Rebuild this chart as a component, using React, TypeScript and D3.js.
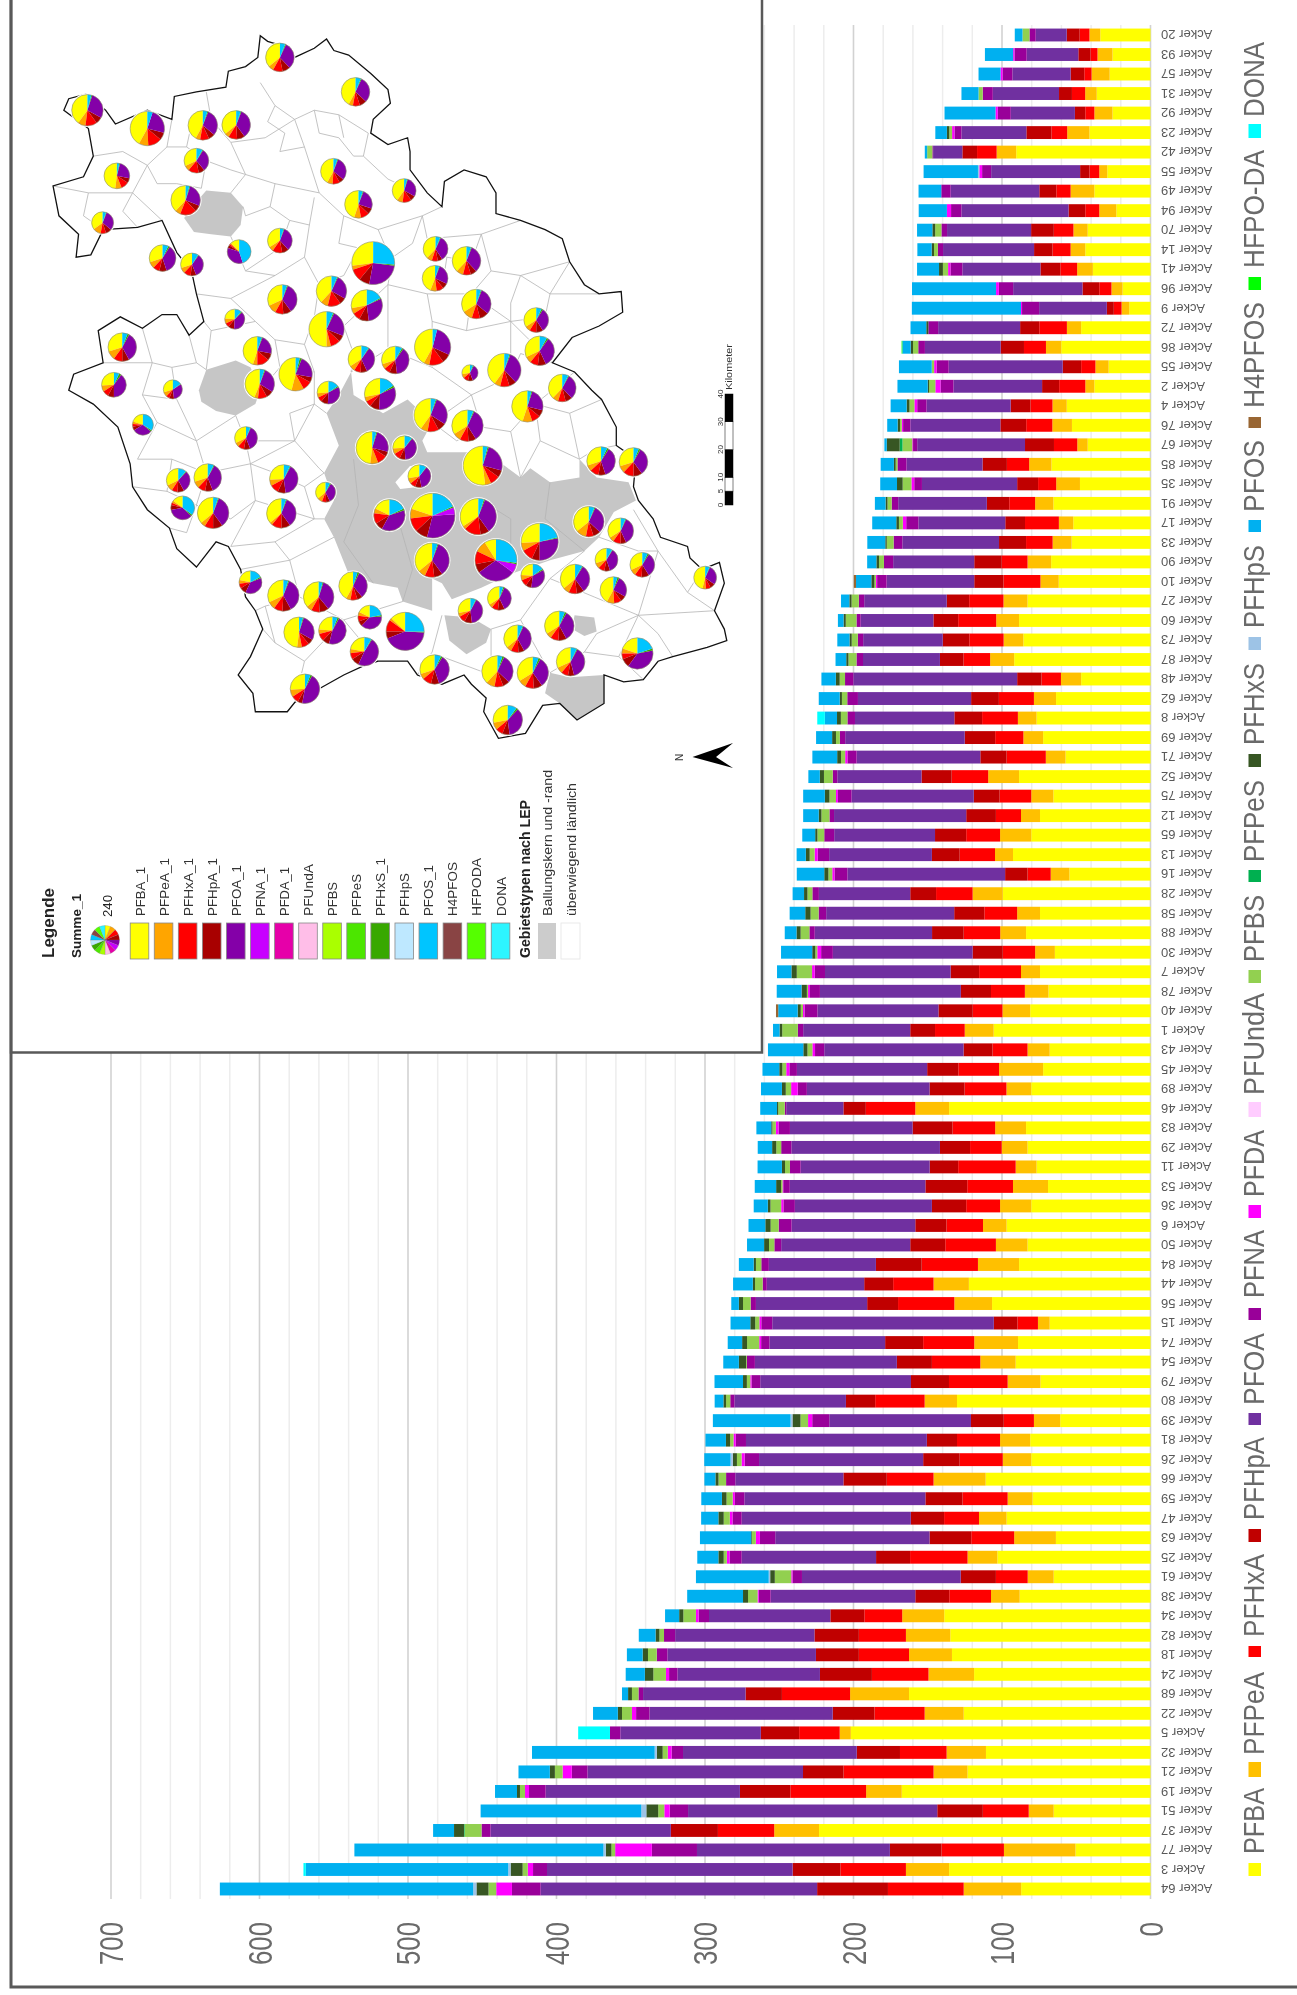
import React from "react";
import * as d3 from "d3";

const W = 1297, H = 1995;

const acker = [20,93,57,31,92,23,42,55,49,94,70,14,41,96,9,72,86,55,2,4,76,67,85,35,91,17,33,90,10,27,60,73,87,48,62,8,69,71,52,75,12,65,13,16,28,58,88,30,7,78,40,1,43,45,89,46,83,29,11,53,36,6,50,84,44,56,15,74,54,79,80,39,81,26,66,59,47,63,25,61,38,34,82,18,24,68,22,5,32,21,19,51,37,77,3,64];

const PFBA = [33.8,25.6,27.5,36.2,25.6,41.1,90.4,29.1,37.8,23,
42.3,43.9,38.8,18.8,14.3,46.7,60.1,28.2,37.8,56.4,
52.9,42.3,66.7,47.5,65.4,52,53.1,66.9,61.8,82.8,
88.5,85.6,91.8,46.7,63.6,76.7,72.3,57.2,88.5,65.4,
74.4,80.3,92.6,54.6,99.5,74.4,83.8,64.4,74.4,68.7,
81,105.6,67.9,72.3,80.3,135.6,83.8,82.8,76.7,69,
80.3,96.9,82.8,88.5,122.3,106.7,67.9,89.2,90.8,74.1,
130.3,60.8,81,80.3,111,79.4,96.9,63.7,103.1,65.2,
88.1,138.9,134.8,133.7,118.8,162.6,125.8,201.8,110.8,123.2,
167.5,65.2,223.2,50.5,135.6,87.1];
const PFPeA = [7.3,10.1,12.2,7.8,12.2,15,13.2,5.4,16,11.5,
9.6,9.9,10.6,7.5,5.2,9.6,10.3,8.9,6.1,9.6,
13.2,7,15,16,12.3,9.7,12.8,15.9,12.3,16.2,
15.4,13.3,16.2,13.6,14.9,12.6,13.3,13.3,20.8,14.9,
12.8,21,12.1,12.6,20.3,15.4,17.4,13.3,12.8,15.9,
18.7,19.5,14.9,29.7,16.7,22.8,20.8,17.4,14.1,23.6,
21,15.9,21.3,27.7,23.8,25.4,7.9,29.5,23.8,22.1,
21.8,17.7,20.3,19.2,35.1,16.8,18.6,28.1,20.1,17.5,
19.3,28.3,29.9,28.9,30.7,39.7,26.3,7.5,26.5,22.9,
24,16.8,30.2,48.2,29.1,38.7];
const PFHxA = [6.6,4.7,4.9,8.9,6.1,10.6,13.2,6.6,9.6,9.4,
13.2,12.2,11.3,8.2,5.2,18.6,14.8,9.6,17.6,14.8,
17.6,15.7,15,12.2,17.4,22.8,17.9,17.4,24.9,23.1,
25.6,23.1,17.9,13.1,23.6,24.1,19,26.4,24.6,21.3,
16.9,22.8,23.8,15.6,24.6,22.1,24.6,21.8,28.2,22.8,
20,20,23.6,27.4,28.2,33.3,28.7,21.3,38.7,30.8,
22.8,24.6,34.1,37.9,27.2,37.9,13.8,34.4,32.6,39.5,
33.3,20.3,29,29,31.5,30.4,23.5,28.9,38.7,21.4,
28.1,25.5,31.7,33.8,38.1,45.9,33.8,27.3,31.4,60.6,
51,30.9,37.9,42,44.1,51];
const PFHpA = [8.7,8.2,9.2,8.7,7,16.9,9.9,6.3,11.5,11.3,
15.3,12.4,13.4,11.3,4.7,12.9,15.7,12.4,11.5,13.4,
17.4,19.5,16.4,14.1,15.1,13.3,18.2,18.5,19.7,15.1,
16.7,17.9,15.9,16.4,18.7,18.7,20.5,17.7,20.3,17.4,
20,21,18.7,15.1,17.4,20.3,21.3,20.3,19.2,20.3,
23.1,16.7,19.5,21,23.6,15.1,26.9,20.3,19.2,28.2,
23.1,21,23.6,30.8,19.5,20.8,15.9,25.6,23.6,25.6,
19.7,22.1,20.3,24.6,29.2,25,22.4,28.1,22.9,23.7,
22.9,22.9,29.9,28.9,35,24.5,28.1,25.8,29.1,27.3,
34,30.7,31.7,34.8,32.2,47.7];
const PFOA = [20.9,34.8,39.2,44.6,43.2,43.7,19.7,59.9,59.7,72.1,
56.6,61.3,52.6,46.7,45.6,55.2,51,76.8,59.7,56.6,
60.6,72.6,51.2,64.1,59.7,58.5,65.1,54.6,59,55.6,
49,53.6,51.8,110.3,76.2,66.9,80.5,83.3,56.7,82.3,
89,67.9,69.2,106.2,61.5,86.2,79,94.1,84.6,94.9,
81.5,72.1,93.8,87.7,82.6,38.5,82.6,100,86.9,91.3,
92.3,83.3,86.9,72.1,65.6,74.9,149.2,77.9,95.6,101.5,
75.1,95.4,121.8,110.5,72.8,121.9,113.9,103.9,90.5,106.9,
97.4,81.7,93.8,100,95.9,69,123.4,94.6,117,145.1,
130.8,167.8,121.4,129.9,165.4,186.2];
const PFNA = [4.2,8.2,6.6,6.8,8.7,4.7,0.5,6.1,6.3,7,
3.8,3.5,8,9.6,11.5,6.6,4.5,8.2,8.7,6.3,
4.9,2.8,6.1,5.2,4.4,8.2,5.9,6.2,6.4,3.6,
2.8,3.6,4.4,5.6,7.2,5.1,3.6,6.2,3.1,9.2,
3.1,6.7,7.7,8.7,4.4,5.1,3.6,7.9,6.9,6.7,
8.7,3.6,6.2,5.1,6.2,1,7.7,6.9,7.2,4.4,
7.7,8.7,4.6,5.1,2.8,3.6,7.4,5.6,5.4,5.9,
2.8,11.5,6.9,9.7,6.2,6.4,6.2,10.3,8.2,6.4,
8,7,7.5,7.2,5.7,3.1,9,7,7.7,10.6,
11.2,12.4,6.1,30.4,9.4,19.3];
const PFDA = [0,0.9,1.4,0,1.6,1.6,0,1.9,0,2.8,
0,0,1.6,1.9,0.7,0,0,1.6,3.5,1.9,
0.9,0.5,0,1.9,0,2.3,0,0,0.8,0,
0,0,0,0,0,0,0,1.5,0,1.3,
0,0,2.1,1.5,0,0,0,2.6,1.8,1.3,
1,0,1.8,2.1,4.4,0,1.8,0,0,0.5,
1.5,0,0,0,0,0,1.3,1.3,0,0.8,
0,2.8,1.5,2.1,0,1.5,1.8,2.8,1.8,0.8,
0.8,1.8,0,0,2.1,0,2.8,0,2.6,6.2,
2.7,3.6,0,24.7,3.6,10.6];
const PFBS = [4.7,0,0,2.8,0,1.9,3.5,0,0,0,
4.2,2.6,3.5,0,0,0,3.5,1.6,4.2,3.3,
1.2,6.6,1.2,5.9,2.8,2.6,4.6,3.3,1,4.9,
7.2,4.1,5.4,3.6,3.6,4.4,2.6,2.8,5.9,4.4,
5.4,4.6,3.3,2.6,3.3,5.4,5.9,1.3,10.3,0.8,
1.5,10.5,3.3,2.6,3.6,4.4,2.3,3.3,3.3,1,
7.2,5.4,3.6,3.6,5.1,5.1,2.8,8.2,0.5,2.3,
2.8,5.1,2.3,3.1,5.1,4.1,4.1,2.6,2.1,11.1,
6.4,8.5,3.1,5.9,8.5,4.4,6.7,0,3.4,5.2,
3.4,4.1,11.4,2.5,3.4,5.2];
const PFHxS = [0,0,0,0,0,1.6,0,0,0,0,
1.9,1.6,2.6,0,0,1.4,1.6,0,0.9,1.9,
1.6,8.7,1.2,3.8,1.3,1.8,1,1.8,2.1,1.5,
1.5,1.5,1.5,2.6,1.5,2.6,2.6,2.6,2.8,3.1,
1.8,1.5,2.6,2.8,2.3,3.6,2.8,2.1,3.6,3.6,
2.1,1.8,2.8,2.1,2.6,0.8,0.8,2.8,2.1,3.3,
1.8,3.6,3.3,1.5,1.5,2.8,3.3,3.3,4.9,2.6,
1.8,5.4,2.8,2.8,2.1,3.1,3.6,0.5,3.6,3.1,
3.4,2.8,2.6,3.6,5.7,2.6,2.8,0,3.9,3.4,
2,8,6.7,3.8,8.1,8.1];
const PFOS = [5.2,19,14.8,11.5,34.3,7.8,1.6,36.6,15.3,19,
10.3,9.6,14.8,56.6,73.5,10.6,5.6,22.1,20.4,10.8,
7,1.6,8.9,11.3,7.2,16.2,12.1,6.2,10.3,5.6,
3.8,8.2,7.2,9.7,14.1,8.2,10.8,16.7,7.7,14.6,
10.5,8.7,6.2,18.5,7.7,10.5,7.9,21,9.7,16.7,
13.1,4.4,23.8,11.3,14.1,11.3,10,9.7,16.4,14.4,
9.5,11.3,11.5,10,13.3,5.1,13.3,9.7,10.5,19.2,
5.9,52.3,13.8,17.7,7.4,13.9,11.6,34.5,14.2,49,
37.6,9.5,11.3,10.6,12.9,4.1,16.7,0,82.6,21.1,
14.8,108.2,14.1,167.7,136.3,170.6];
const sparse = (m: Record<number, number>) => acker.map((_, i) => m[i + 1] || 0);
const PFUndA = sparse({});
const PFPeS = sparse({ 22: 1.9, 93: 0.4 });
const PFHpS = sparse({ 8: 0.9, 72: 1.3, 74: 1.5, 80: 1, 89: 1.5, 92: 3.4, 94: 1.6, 95: 1.6, 96: 2.2 });
const H4PFOS = sparse({ 29: 1.5, 51: 1.5 });
const HFPODA = sparse({ 17: 0.5 });
const DONA = sparse({ 36: 5.1, 88: 21.4, 95: 1.6 });

const seriesNames = ["PFBA","PFPeA","PFHxA","PFHpA","PFOA","PFNA","PFDA","PFUndA","PFBS","PFPeS","PFHxS","PFHpS","PFOS","H4PFOS","HFPO-DA","DONA"];
const seriesValues = [PFBA,PFPeA,PFHxA,PFHpA,PFOA,PFNA,PFDA,PFUndA,PFBS,PFPeS,PFHxS,PFHpS,PFOS,H4PFOS,HFPODA,DONA];
const seriesColors = ["#FFFF00","#FFC000","#FF0000","#C00000","#7030A0","#990099","#FF00FF","#FFCCFF","#92D050","#00B050","#375623","#9DC3E6","#00B0F0","#996633","#00FF00","#00FFFF"];
const valueTicks = [0,100,200,300,400,500,600,700];
const minorTicks = d3.range(20, 701, 20).filter((v) => v % 100 !== 0);

// legend layout: marker top, marker bottom, text bottom, text top
const legendLayout = [
  [1863,1876,1854,1788],[1762,1777,1755,1672],[1646,1657,1637,1554],[1529,1542,1520,1437],
  [1413,1425,1405,1333],[1308,1320,1298,1230],[1205,1218,1197,1130],[1102,1117,1095,993],
  [970,983,962,895],[870,882,862,780],[754,767,745,663],[637,650,628,545],
  [520,532,512,440],[417,428,408,302],[277,290,268,150],[124,138,117,42],
];

// ---- map, in map-trace units
const mapOutline = [[460,190],[465,155],[500,145],[525,125],[530,78],[545,90],[575,100],[600,125],[640,105],[665,85],[680,110],[710,120],[755,160],[790,195],[795,225],[760,260],[755,290],[790,315],[830,300],[835,330],[835,370],[870,420],[900,450],[905,395],[945,370],[990,385],[1010,420],[1010,465],[1060,480],[1110,500],[1145,520],[1160,570],[1190,620],[1220,640],[1265,635],[1268,680],[1220,710],[1165,735],[1125,790],[1170,810],[1205,850],[1225,870],[1255,930],[1255,970],[1295,1000],[1290,1060],[1300,1090],[1330,1130],[1345,1170],[1400,1190],[1405,1215],[1430,1240],[1465,1225],[1475,1270],[1455,1330],[1475,1370],[1480,1395],[1440,1410],[1370,1430],[1340,1440],[1310,1480],[1270,1485],[1230,1470],[1230,1532],[1175,1568],[1140,1532],[1105,1536],[1070,1597],[1015,1608],[985,1550],[990,1520],[960,1490],[945,1470],[900,1490],[850,1470],[830,1440],[770,1440],[740,1450],[700,1470],[650,1500],[600,1530],[585,1550],[520,1550],[515,1510],[485,1470],[510,1430],[535,1370],[520,1330],[500,1300],[490,1240],[465,1190],[440,1180],[400,1235],[360,1195],[345,1150],[300,1110],[270,1060],[265,1010],[240,930],[190,880],[140,850],[150,815],[210,790],[200,720],[245,690],[290,715],[330,685],[360,685],[385,730],[415,700],[400,640],[390,590],[360,550],[330,480],[280,495],[210,500],[185,555],[155,560],[160,510],[120,470],[108,405],[170,385],[190,340],[180,280],[130,240],[140,215],[175,205],[215,240],[235,270],[300,240],[350,260],[355,210],[400,200]];
const mapGrayAreas = [
  [[375,475],[400,440],[420,415],[470,420],[495,450],[490,490],[470,515],[430,510],[395,505]],
  [[405,850],[420,805],[480,785],[510,800],[530,850],[520,880],[480,905],[440,895],[410,875]],
  [[665,900],[690,860],[715,810],[720,860],[780,900],[830,870],[880,920],[860,960],[870,985],[950,985],[1010,1000],[1060,1040],[1080,1020],[1120,1050],[1180,1040],[1180,1000],[1215,1040],[1280,1050],[1295,1090],[1250,1115],[1220,1170],[1190,1200],[1120,1220],[1040,1250],[980,1280],[920,1305],[900,1270],[880,1260],[880,1330],[820,1310],[810,1280],[760,1270],[710,1250],[680,1170],[660,1130],[680,1090],[660,1030],[690,970]],
  [[905,1340],[960,1345],[1000,1370],[990,1400],[950,1425],[915,1395]],
  [[1170,1340],[1210,1345],[1215,1375],[1190,1385],[1165,1370]],
  [[1110,1510],[1120,1465],[1160,1475],[1230,1470],[1230,1532],[1175,1568],[1140,1532]],
];
const mapHole = [[805,1050],[835,1015],[865,1020],[855,1060],[815,1065]];
const mapBoundaries = [
  [[530,180],[560,230],[600,260],[640,240],[690,250],[750,290]],
  [[420,200],[430,260],[470,310],[540,300],[600,260]],
  [[350,260],[340,320],[300,360],[270,420],[330,480]],
  [[190,340],[250,330],[300,360]],
  [[108,405],[180,420],[270,420]],
  [[470,310],[500,380],[560,400],[650,420],[700,470]],
  [[500,380],[470,420]],
  [[600,260],[620,320],[650,420]],
  [[750,290],[740,340],[790,390],[830,410]],
  [[640,430],[630,490],[620,560],[650,620],[640,690]],
  [[700,470],[770,500],[860,470],[900,450]],
  [[470,515],[500,590],[560,600],[620,560]],
  [[400,640],[470,650],[560,600]],
  [[860,470],[870,520],[980,510],[1060,480]],
  [[980,510],[1000,590],[1060,600],[1160,570]],
  [[1000,590],[960,640],[1040,700],[1125,790]],
  [[1060,600],[1120,640],[1220,640]],
  [[790,620],[870,640],[960,640]],
  [[640,690],[700,710],[790,620]],
  [[385,730],[400,790],[420,805]],
  [[290,715],[310,790],[290,860],[320,920],[280,1000]],
  [[210,790],[310,790]],
  [[320,920],[400,960],[480,905]],
  [[400,960],[420,1030],[510,1010],[600,960],[640,880],[665,900]],
  [[510,1010],[520,1090],[470,1190]],
  [[600,960],[650,1020],[660,1030]],
  [[520,1090],[640,1130],[660,1130]],
  [[490,1240],[590,1220],[680,1170]],
  [[590,1220],[610,1300],[700,1350],[770,1440]],
  [[700,1350],[820,1310]],
  [[900,1340],[880,1420],[850,1470]],
  [[1000,1370],[1060,1350],[1120,1465]],
  [[1060,1350],[1120,1260],[1190,1200]],
  [[1215,1380],[1300,1340],[1455,1330]],
  [[1300,1340],[1340,1200],[1290,1110]],
  [[1220,1170],[1300,1200],[1340,1200]],
  [[1120,1260],[1210,1300],[1300,1340]],
  [[1060,1040],[1040,940],[1090,880],[1170,810]],
  [[880,920],[960,860],[1040,820],[1040,700]],
  [[715,810],[790,760],[790,620]],
  [[790,760],[880,800],[960,860]],
  [[720,1000],[730,1100],[700,1180],[760,1270]],
  [[800,1090],[840,1240],[820,1310]],
  [[980,1090],[1040,1130],[1040,1250]],
  [[1120,1050],[1110,1130],[1190,1200]],
  [[560,230],[545,265],[580,290],[570,330],[620,320]],
  [[640,240],[650,290],[690,300],[720,340],[740,340]],
  [[690,250],[700,300]],
  [[430,260],[390,270],[380,320],[340,320]],
  [[380,320],[420,350],[470,370],[500,380]],
  [[420,350],[410,410]],
  [[300,360],[320,400],[360,400],[410,410]],
  [[270,420],[250,460],[280,495]],
  [[180,420],[170,470],[210,500]],
  [[560,400],[550,450],[590,480],[630,490]],
  [[550,450],[500,470],[495,450]],
  [[590,480],[570,540],[500,590]],
  [[700,470],[690,530],[730,540],[700,600],[650,620]],
  [[770,500],[790,550],[730,540]],
  [[860,470],[840,530],[800,560],[790,620]],
  [[870,520],[910,560],[900,630]],
  [[980,510],[960,570],[910,560]],
  [[1060,600],[1040,660],[1040,700]],
  [[1120,640],[1110,690],[1040,700]],
  [[1160,570],[1120,640]],
  [[1125,790],[1060,770],[1040,820]],
  [[960,640],[950,720],[1040,700]],
  [[950,720],[880,700],[870,640]],
  [[880,700],[880,800]],
  [[700,710],[720,770],[715,810]],
  [[640,690],[620,750],[640,810],[640,880]],
  [[620,750],[560,740],[520,700],[470,650]],
  [[560,740],[570,800],[530,850]],
  [[570,800],[640,810]],
  [[520,700],[430,720],[415,700]],
  [[430,720],[420,805]],
  [[400,790],[350,800],[310,790]],
  [[350,800],[360,870],[290,860]],
  [[360,870],[400,960]],
  [[480,905],[500,960],[510,1010]],
  [[500,960],[600,960]],
  [[640,880],[590,900],[600,960]],
  [[420,1030],[350,1000],[280,1000]],
  [[350,1000],[340,1070],[270,1060]],
  [[340,1070],[400,1100],[420,1030]],
  [[400,1100],[380,1160],[345,1150]],
  [[400,1100],[470,1130],[520,1090]],
  [[960,860],[980,930],[1040,940]],
  [[980,930],[930,960],[880,920]],
  [[1090,880],[1160,900],[1225,870]],
  [[1160,900],[1180,1000]],
  [[1255,970],[1210,980],[1180,1000]],
  [[1090,880],[1100,960],[1060,1040]],
  [[1100,960],[1180,1000]],
  [[640,1130],[620,1060],[660,1030]],
  [[620,1060],[560,1030],[510,1010]],
  [[470,1190],[560,1180],[640,1130]],
  [[560,1180],[590,1220]],
  [[610,1300],[540,1320],[520,1330]],
  [[540,1320],[560,1400],[535,1370]],
  [[560,1400],[620,1440],[700,1350]],
  [[620,1440],[600,1530]],
  [[1120,1465],[1190,1420],[1260,1430],[1310,1480]],
  [[1260,1430],[1300,1340]],
  [[1190,1420],[1215,1380]],
  [[1340,1200],[1400,1290],[1455,1330]],
  [[1400,1290],[1430,1240]],
  [[1300,1340],[1340,1380],[1370,1430]],
  [[1000,1370],[1000,1470]],
  [[900,1490],[900,1430],[1000,1470]],
];
// x, y, radius, then yellow, orange, red, dark red, purple, violet, green, blue shares
const mapPies = [
[570,125,30,36,6,11,9,31,0,1,6],[724,200,30,42,5,8,8,30,0,1,6],[178,240,33,40,8,12,7,28,0,1,4],[300,280,36,42,9,13,7,24,0,0,5],
[413,273,31,42,5,10,7,30,0,1,5],[481,272,30,36,5,10,9,34,0,1,5],[400,350,26,32,7,14,8,30,0,1,8],[679,373,27,42,7,9,6,30,0,1,5],
[238,383,27,48,8,10,6,24,0,1,3],[378,436,31,38,6,18,7,26,0,1,4],[823,415,25,40,8,12,7,28,0,1,4],[730,445,29,45,8,10,7,24,0,1,5],
[209,485,23,35,12,8,9,30,0,1,5],[570,524,26,34,6,13,9,32,0,1,5],[487,548,25,12,2,2,4,35,0,0,45],[760,573,45,27,3,9,8,26,0,1,26],
[887,542,26,38,7,8,6,34,0,1,6],[950,568,30,38,8,9,7,32,0,1,5],[331,562,28,30,8,8,9,36,0,2,7],[391,576,24,30,8,10,8,34,0,1,9],
[886,606,27,44,8,9,7,26,0,1,5],[675,634,32,38,8,14,7,26,0,1,6],[575,652,31,32,10,9,9,34,0,1,5],[747,665,33,28,6,8,10,30,0,1,17],
[970,662,31,34,11,9,10,30,0,1,5],[478,695,21,24,8,7,10,38,0,2,11],[1092,697,26,34,7,9,9,32,0,2,7],[665,717,37,50,4,9,6,24,0,1,6],
[249,756,30,30,10,10,8,34,0,2,6],[524,764,30,45,5,14,8,22,0,1,5],[881,756,38,42,5,13,8,28,0,0,4],[1099,764,31,32,7,9,9,33,0,2,8],
[736,782,28,34,7,8,8,33,0,1,9],[805,784,29,30,6,7,9,38,0,2,8],[602,815,35,46,12,9,5,22,0,2,4],[957,812,17,28,8,10,10,36,0,2,6],
[1027,806,35,40,6,9,7,32,0,1,5],[232,838,26,26,8,8,8,40,0,3,7],[352,848,20,30,8,6,8,32,0,1,15],[529,836,31,44,4,10,8,28,0,1,5],
[669,855,24,26,6,7,10,34,0,2,15],[774,858,33,28,5,6,10,33,0,2,16],[1145,845,29,38,7,9,8,30,0,1,7],[1074,885,33,45,10,9,7,24,0,1,4],
[877,904,35,40,7,11,8,28,0,1,5],[952,927,33,34,8,9,8,34,0,1,6],[291,925,22,20,4,4,6,30,0,2,34],[501,954,24,32,6,9,9,37,0,1,6],
[758,975,34,48,8,10,5,24,0,1,4],[824,975,25,26,8,9,8,38,0,1,10],[1224,1004,30,30,7,10,8,36,0,2,7],[1290,1006,30,30,8,12,10,32,0,2,6],
[983,1014,41,52,5,8,6,24,0,1,4],[854,1037,24,28,8,8,9,36,0,1,10],[423,1040,29,30,8,9,9,36,0,1,7],[363,1046,25,32,9,8,9,30,0,1,11],
[578,1043,30,26,7,10,9,40,0,1,7],[663,1072,21,36,8,7,6,34,0,2,7],[372,1106,25,15,3,3,7,35,0,2,35],[434,1117,33,36,5,9,10,34,0,1,5],
[573,1118,31,36,3,11,10,34,0,1,5],[793,1122,33,18,5,11,8,38,0,2,18],[881,1123,47,20,7,10,9,30,5,1,18],[974,1125,38,34,3,15,8,34,0,1,5],
[1199,1136,32,36,11,8,8,30,0,1,6],[1264,1156,27,34,6,10,7,36,0,1,6],[1099,1180,39,26,7,10,7,28,0,1,21],[880,1220,36,36,7,9,8,34,0,1,5],
[1235,1219,24,30,8,9,8,36,0,1,8],[1010,1220,44,9,9,10,7,30,7,1,27],[1308,1230,26,32,8,9,10,32,0,2,7],[1085,1254,25,24,7,9,8,35,0,2,15],
[1171,1261,31,36,7,9,8,31,0,1,8],[510,1268,24,22,5,7,9,38,0,2,17],[719,1276,30,42,5,8,6,32,0,2,5],[577,1297,33,32,8,9,9,36,0,1,5],
[649,1300,32,36,6,9,10,34,0,1,4],[1436,1258,24,46,5,7,7,28,0,1,6],[1249,1285,28,42,9,9,7,26,0,2,5],[1017,1303,25,34,5,9,9,36,0,2,5],
[958,1330,26,28,5,9,10,40,0,1,7],[753,1344,25,18,5,8,7,38,0,2,22],[1139,1363,31,34,6,9,9,34,0,2,6],[609,1377,32,48,5,8,6,28,0,1,4],
[677,1373,29,24,5,9,8,46,0,2,6],[825,1375,40,13,2,10,6,43,0,1,25],[1054,1391,29,36,6,9,7,35,0,1,6],[742,1419,30,22,5,7,9,48,0,1,8],
[1298,1423,33,20,5,6,9,38,0,2,20],[885,1458,31,30,6,10,9,36,0,2,7],[1162,1441,30,32,7,8,7,38,0,1,7],[1013,1462,33,38,9,9,7,30,0,2,5],
[1085,1465,33,34,8,9,9,32,0,2,6],[621,1500,31,26,8,8,5,45,0,2,6],[1034,1568,31,28,8,8,8,36,0,2,10],
];
const pieColors = ["#FFFF00","#FFA500","#FF0000","#A80000","#8400A8","#C800FF","#38A800","#00C5FF"];
const mapLegendNames = ["PFBA_1","PFPeA_1","PFHxA_1","PFHpA_1","PFOA_1","PFNA_1","PFDA_1","PFUndA","PFBS","PFPeS","PFHxS_1","PFHpS","PFOS_1","H4PFOS","HFPODA","DONA"];
const mapLegendLens = [49,58,58,58,51,49,49,52,34,42,58,43,51,54,58,39];
const mapLegendColors = ["#FFFF00","#FFA500","#FF0000","#A80000","#8400A8","#C800FF","#E600A9","#FFBEE8","#AAFF00","#4CE600","#38A800","#BEE8FF","#00C5FF","#894444","#55FF00","#2DF5FF"];
const areaLegend = [
  { name: "Ballungskern und -rand", color: "#CCCCCC", len: 146, x: 538, w: 18 },
  { name: "überwiegend ländlich", color: "#FFFFFF", len: 133, x: 561, w: 19 },
];
const scaleStops = [0, 5, 10, 20, 30, 40];

const sans = "'Liberation Sans', Arial, sans-serif";

function VText({ x, y, len, size, text, fill = "#222", weight = "normal" }: any) {
  return (
    <text transform={`translate(${x},${y}) rotate(-90)`} fontFamily={sans} fontSize={size} fill={fill} fontWeight={weight}
      textLength={len} lengthAdjust="spacingAndGlyphs">{text}</text>
  );
}

export default function App() {
  const x = d3.scaleLinear().domain([0, 700]).range([1150.5, 111]);
  const rowKeys = acker.map((_, i) => String(i));
  const y = d3.scaleBand().domain(rowKeys).range([25.24, 1898.76]).paddingInner(0.34).paddingOuter(0.17);

  const rows = acker.map((_, i) => {
    const o: any = { key: String(i) };
    seriesNames.forEach((n, s) => (o[n] = seriesValues[s][i]));
    return o;
  });
  const stacked = d3.stack().keys(seriesNames)(rows);

  const mx = d3.scaleLinear().domain([0, 1568]).range([0, 770]);
  const my = d3.scaleLinear().domain([0, 1568]).range([0, 720]);
  const line = d3.line().x((d: any) => mx(d[0])).y((d: any) => my(d[1]));
  const closed = d3.line().x((d: any) => mx(d[0])).y((d: any) => my(d[1])).curve(d3.curveLinearClosed);
  const pie = d3.pie<number>().sort(null).startAngle(0).endAngle(-2 * Math.PI);
  const arc = d3.arc<any>().innerRadius(0);
  const km = d3.scaleLinear().domain([0, 40]).range([505, 394]);

  return (
    <svg width={W} height={H} viewBox={`0 0 ${W} ${H}`} style={{ position: "absolute", left: 0, top: 0, background: "#fff" }}>
      <defs>
        <filter id="soft" x="0" y="0" width="100%" height="100%" colorInterpolationFilters="sRGB">
          <feGaussianBlur stdDeviation="0.55" />
        </filter>
      </defs>
      <g filter="url(#soft)">
        <rect x={0} y={0} width={W} height={H} fill="#fff" />
        {/* gridlines */}
        {minorTicks.map((t) => (
          <line key={t} x1={x(t)} x2={x(t)} y1={25} y2={1899} stroke="#ededed" strokeWidth={1.5} />
        ))}
        {valueTicks.map((t) => (
          <line key={t} x1={x(t)} x2={x(t)} y1={25} y2={1899} stroke="#d2d2d2" strokeWidth={1.6} />
        ))}
        {/* stacked bars */}
        {stacked.map((layer: any, s: number) => (
          <g key={seriesNames[s]} fill={seriesColors[s]}>
            {layer.map((d: any, i: number) =>
              d[1] - d[0] > 0 ? (
                <rect key={i} x={x(d[1])} width={x(d[0]) - x(d[1])} y={y(String(i))} height={y.bandwidth()} />
              ) : null
            )}
          </g>
        ))}
        {/* category labels */}
        {acker.map((a, i) => (
          <text key={i} transform={`translate(1161,${(y(String(i)) as number) + y.bandwidth() / 2 - 4.7}) rotate(180)`}
            textAnchor="end" fontFamily={sans} fontSize={13} fill="#595959">{`Acker ${a}`}</text>
        ))}
        {/* value tick labels */}
        {valueTicks.map((t) => {
          const len = t === 0 ? 14.5 : 43;
          return <VText key={t} x={x(t) + 12} y={1922 + len} len={len} size={33} fill="#6a6a6a" text={String(t)} />;
        })}
        {/* series legend */}
        {seriesNames.map((n, s) => {
          const [mt, mb, tb, tt] = legendLayout[s];
          return (
            <g key={n}>
              <rect x={1248.5} y={mt} width={12.5} height={mb - mt} fill={seriesColors[s]} />
              <VText x={1263.5} y={tb} len={tb - tt} size={28.6} fill="#6a6a6a" text={n} />
            </g>
          );
        })}
        {/* map panel */}
        <rect x={11} y={-5} width={751} height={1057.5} fill="#fff" stroke="#595959" strokeWidth={2.5} />
        <path d={closed(mapOutline as any) as string} fill="#fff" />
        {mapGrayAreas.map((a, i) => (
          <path key={i} d={closed(a as any) as string} fill="#c6c6c6" />
        ))}
        <path d={closed(mapHole as any) as string} fill="#fff" />
        {mapBoundaries.map((b, i) => (
          <path key={i} d={line(b as any) as string} fill="none" stroke="#b4b4b4" strokeWidth={0.8} />
        ))}
        <path d={closed(mapOutline as any) as string} fill="none" stroke="#111" strokeWidth={1.3} />
        {mapPies.map((p, i) => {
          const [cx, cy, r, ...shares] = p;
          const R = r / 2.1;
          return (
            <g key={i} transform={`translate(${mx(cx)},${my(cy)})`}>
              <circle r={R + 1.2} fill="#fff" />
              {pie(shares).map((sl, k) => (
                <path key={k} d={arc({ ...sl, outerRadius: R }) as string} fill={pieColors[k]} />
              ))}
              <circle r={R} fill="none" stroke="#8b8b6b" strokeWidth={0.6} />
            </g>
          );
        })}
        {/* north arrow */}
        <path d="M692.5,757 L733,743 L716,757 L733,768 Z" fill="#000" />
        <text transform="translate(683,761) rotate(-90)" fontFamily={sans} fontSize={10} fill="#333">N</text>
        {/* scale bar */}
        {scaleStops.slice(0, -1).map((s, i) => (
          <rect key={s} x={725} width={8} y={km(scaleStops[i + 1])} height={km(s) - km(scaleStops[i + 1])}
            fill={i % 2 === 0 ? "#000" : "#fff"} stroke="#000" strokeWidth={0.5} />
        ))}
        {scaleStops.map((s) => (
          <text key={s} transform={`translate(723,${km(s)}) rotate(-90)`} textAnchor="middle" fontFamily={sans} fontSize={8} fill="#333">{s}</text>
        ))}
        <VText x={732} y={390} len={46} size={8.5} fill="#333" text="Kilometer" />
        {/* map legend */}
        <VText x={54} y={958} len={70} size={17} weight="bold" text="Legende" />
        <VText x={81} y={958} len={64} size={12.5} weight="bold" text="Summe_1" />
        <VText x={112} y={917} len={22} size={13} text="240" />
        <g transform="translate(105,940)">
          {d3.pie<number>().sort(null)(mapLegendColors.map(() => 1)).map((sl, k) => (
            <path key={k} d={arc({ ...sl, outerRadius: 14.5 }) as string} fill={mapLegendColors[k]} stroke="#777" strokeWidth={0.2} />
          ))}
        </g>
        {mapLegendNames.map((n, i) => {
          const cx = 139.5 + i * 24.07;
          return (
            <g key={n}>
              <rect x={cx - 9.3} y={923} width={18.6} height={36} fill={mapLegendColors[i]} stroke="#888" strokeWidth={0.8} />
              <VText x={cx + 5} y={916} len={mapLegendLens[i]} size={13.5} fill="#333" text={n} />
            </g>
          );
        })}
        <VText x={529.5} y={958} len={158} size={14} weight="bold" text="Gebietstypen nach LEP" />
        {areaLegend.map((a) => (
          <g key={a.name}>
            <rect x={a.x} y={923} width={a.w} height={36} fill={a.color} stroke={a.color === "#FFFFFF" ? "#e4e4e4" : "none"} strokeWidth={0.8} />
            <VText x={a.x + a.w / 2 + 5} y={916} len={a.len} size={13} fill="#333" text={a.name} />
          </g>
        ))}
        {/* outer frame */}
        <path d="M11,0 L11,1987 L1297,1987" fill="none" stroke="#595959" strokeWidth={3} />
      </g>
    </svg>
  );
}
